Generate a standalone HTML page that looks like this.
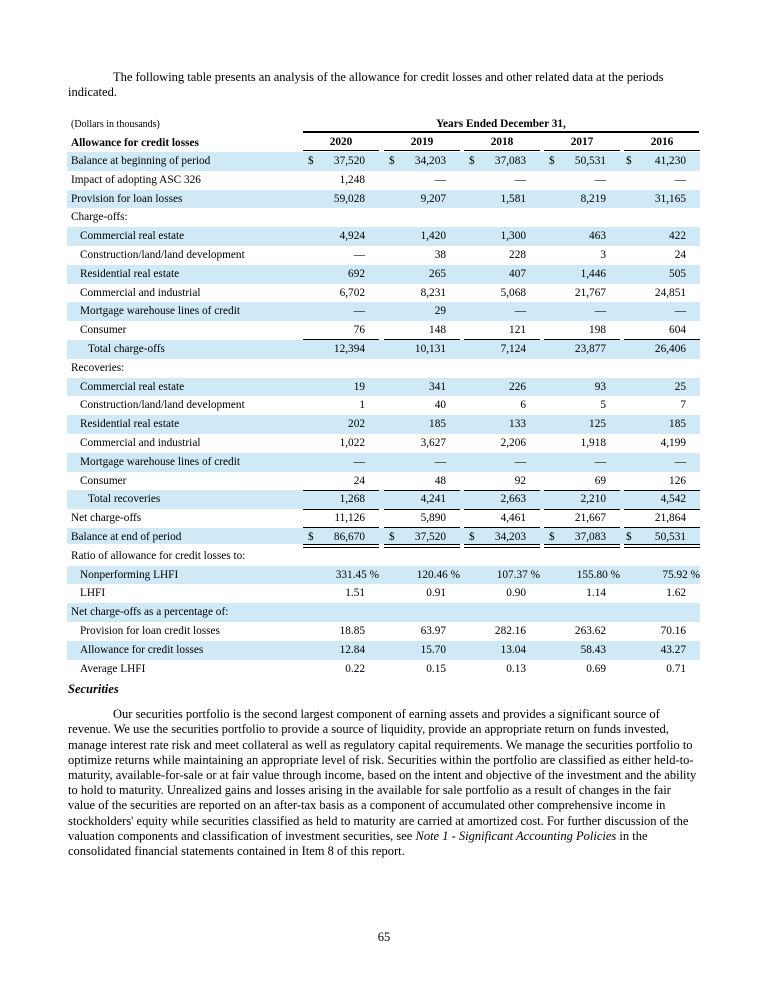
<!DOCTYPE html>
<html><head><meta charset="utf-8">
<style>
html,body{margin:0;padding:0;background:#fff;}
body{width:768px;height:993px;position:relative;overflow:hidden;font-family:"Liberation Serif","Times New Roman",serif;color:#000;}
.t{position:absolute;white-space:nowrap;font-size:12.5px;line-height:15.2px;}
.r{position:absolute;left:67px;width:633px;height:18.8px;line-height:18.8px;font-size:11.3px;white-space:nowrap;}
.b{background:#cfe9f6;}
.r span{position:absolute;top:0;}
.l{left:4px;}
.l1{left:13px;}
.l2{left:21px;}
.v{width:62px;text-align:right;}
.p{width:76px;text-align:right;}
.c0{left:236px}.c1{left:317px}.c2{left:397px}.c3{left:477px}.c4{left:557px}
.d0{left:241px}.d1{left:322px}.d2{left:402px}.d3{left:482px}.d4{left:559px}
.ln{position:absolute;height:1px;background:#000;}
.h{position:absolute;white-space:nowrap;font-size:11.3px;font-weight:bold;line-height:14px;}
</style></head><body>

<div class="t" style="left:113px;top:70px;">The following table presents an analysis of the allowance for credit losses and other related data at the periods</div>
<div class="t" style="left:68px;top:85px;">indicated.</div>

<div style="position:absolute;left:71px;top:118px;font-size:10px;line-height:14px;white-space:nowrap;">(Dollars in thousands)</div>
<div class="h" style="left:303px;width:396px;text-align:center;top:117px;">Years Ended December 31,</div>
<div class="ln" style="left:303px;width:396px;top:131px;height:1.5px;"></div>

<div class="h" style="left:71px;top:136px;">Allowance for credit losses</div>
<div class="h" style="left:303px;width:76px;text-align:center;top:135px;">2020</div>
<div class="h" style="left:384px;width:76px;text-align:center;top:135px;">2019</div>
<div class="h" style="left:464px;width:76px;text-align:center;top:135px;">2018</div>
<div class="h" style="left:544px;width:76px;text-align:center;top:135px;">2017</div>
<div class="h" style="left:624px;width:76px;text-align:center;top:135px;">2016</div>
<div class="ln" style="left:303px;width:76px;top:150px;"></div>
<div class="ln" style="left:384px;width:76px;top:150px;"></div>
<div class="ln" style="left:464px;width:76px;top:150px;"></div>
<div class="ln" style="left:544px;width:76px;top:150px;"></div>
<div class="ln" style="left:624px;width:76px;top:150px;"></div>

<!-- rows -->
<div class="r b" style="top:152px"><span class="l">Balance at beginning of period</span>
<span class="d0">$</span><span class="v c0">37,520</span><span class="d1">$</span><span class="v c1">34,203</span><span class="d2">$</span><span class="v c2">37,083</span><span class="d3">$</span><span class="v c3">50,531</span><span class="d4">$</span><span class="v c4">41,230</span></div>
<div class="r" style="top:170.8px"><span class="l">Impact of adopting ASC 326</span>
<span class="v c0">1,248</span><span class="v c1">—</span><span class="v c2">—</span><span class="v c3">—</span><span class="v c4">—</span></div>
<div class="r b" style="top:189.6px"><span class="l">Provision for loan losses</span>
<span class="v c0">59,028</span><span class="v c1">9,207</span><span class="v c2">1,581</span><span class="v c3">8,219</span><span class="v c4">31,165</span></div>
<div class="r" style="top:208.4px"><span class="l">Charge-offs:</span></div>
<div class="r b" style="top:227.2px"><span class="l1">Commercial real estate</span>
<span class="v c0">4,924</span><span class="v c1">1,420</span><span class="v c2">1,300</span><span class="v c3">463</span><span class="v c4">422</span></div>
<div class="r" style="top:246px"><span class="l1">Construction/land/land development</span>
<span class="v c0">—</span><span class="v c1">38</span><span class="v c2">228</span><span class="v c3">3</span><span class="v c4">24</span></div>
<div class="r b" style="top:264.8px"><span class="l1">Residential real estate</span>
<span class="v c0">692</span><span class="v c1">265</span><span class="v c2">407</span><span class="v c3">1,446</span><span class="v c4">505</span></div>
<div class="r" style="top:283.6px"><span class="l1">Commercial and industrial</span>
<span class="v c0">6,702</span><span class="v c1">8,231</span><span class="v c2">5,068</span><span class="v c3">21,767</span><span class="v c4">24,851</span></div>
<div class="r b" style="top:302.4px"><span class="l1">Mortgage warehouse lines of credit</span>
<span class="v c0">—</span><span class="v c1">29</span><span class="v c2">—</span><span class="v c3">—</span><span class="v c4">—</span></div>
<div class="r" style="top:321.2px"><span class="l1">Consumer</span>
<span class="v c0">76</span><span class="v c1">148</span><span class="v c2">121</span><span class="v c3">198</span><span class="v c4">604</span></div>
<div class="r b" style="top:340px"><span class="l2">Total charge-offs</span>
<span class="v c0">12,394</span><span class="v c1">10,131</span><span class="v c2">7,124</span><span class="v c3">23,877</span><span class="v c4">26,406</span></div>
<div class="r" style="top:358.8px"><span class="l">Recoveries:</span></div>
<div class="r b" style="top:377.6px"><span class="l1">Commercial real estate</span>
<span class="v c0">19</span><span class="v c1">341</span><span class="v c2">226</span><span class="v c3">93</span><span class="v c4">25</span></div>
<div class="r" style="top:396.4px"><span class="l1">Construction/land/land development</span>
<span class="v c0">1</span><span class="v c1">40</span><span class="v c2">6</span><span class="v c3">5</span><span class="v c4">7</span></div>
<div class="r b" style="top:415.2px"><span class="l1">Residential real estate</span>
<span class="v c0">202</span><span class="v c1">185</span><span class="v c2">133</span><span class="v c3">125</span><span class="v c4">185</span></div>
<div class="r" style="top:434px"><span class="l1">Commercial and industrial</span>
<span class="v c0">1,022</span><span class="v c1">3,627</span><span class="v c2">2,206</span><span class="v c3">1,918</span><span class="v c4">4,199</span></div>
<div class="r b" style="top:452.8px"><span class="l1">Mortgage warehouse lines of credit</span>
<span class="v c0">—</span><span class="v c1">—</span><span class="v c2">—</span><span class="v c3">—</span><span class="v c4">—</span></div>
<div class="r" style="top:471.6px"><span class="l1">Consumer</span>
<span class="v c0">24</span><span class="v c1">48</span><span class="v c2">92</span><span class="v c3">69</span><span class="v c4">126</span></div>
<div class="r b" style="top:490.4px"><span class="l2">Total recoveries</span>
<span class="v c0">1,268</span><span class="v c1">4,241</span><span class="v c2">2,663</span><span class="v c3">2,210</span><span class="v c4">4,542</span></div>
<div class="r" style="top:509.2px"><span class="l">Net charge-offs</span>
<span class="v c0">11,126</span><span class="v c1">5,890</span><span class="v c2">4,461</span><span class="v c3">21,667</span><span class="v c4">21,864</span></div>
<div class="r b" style="top:528px;height:16.3px;line-height:19px;"><span class="l">Balance at end of period</span>
<span class="d0">$</span><span class="v c0">86,670</span><span class="d1">$</span><span class="v c1">37,520</span><span class="d2">$</span><span class="v c2">34,203</span><span class="d3">$</span><span class="v c3">37,083</span><span class="d4">$</span><span class="v c4">50,531</span></div>
<div class="r" style="top:546.8px"><span class="l">Ratio of allowance for credit losses to:</span></div>
<div class="r b" style="top:565.6px"><span class="l1">Nonperforming LHFI</span>
<span class="p c0">331.45 %</span><span class="p c1">120.46 %</span><span class="p c2">107.37 %</span><span class="p c3">155.80 %</span><span class="p c4">75.92 %</span></div>
<div class="r" style="top:584.4px"><span class="l1">LHFI</span>
<span class="v c0">1.51</span><span class="v c1">0.91</span><span class="v c2">0.90</span><span class="v c3">1.14</span><span class="v c4">1.62</span></div>
<div class="r b" style="top:603.2px"><span class="l">Net charge-offs as a percentage of:</span></div>
<div class="r" style="top:622px"><span class="l1">Provision for loan credit losses</span>
<span class="v c0">18.85</span><span class="v c1">63.97</span><span class="v c2">282.16</span><span class="v c3">263.62</span><span class="v c4">70.16</span></div>
<div class="r b" style="top:640.8px"><span class="l1">Allowance for credit losses</span>
<span class="v c0">12.84</span><span class="v c1">15.70</span><span class="v c2">13.04</span><span class="v c3">58.43</span><span class="v c4">43.27</span></div>
<div class="r" style="top:659.6px"><span class="l1">Average LHFI</span>
<span class="v c0">0.22</span><span class="v c1">0.15</span><span class="v c2">0.13</span><span class="v c3">0.69</span><span class="v c4">0.71</span></div>

<!-- underline rules -->
<div class="ln" style="left:303px;width:76px;top:339px;"></div>
<div class="ln" style="left:384px;width:76px;top:339px;"></div>
<div class="ln" style="left:464px;width:76px;top:339px;"></div>
<div class="ln" style="left:544px;width:76px;top:339px;"></div>
<div class="ln" style="left:624px;width:76px;top:339px;"></div>

<div class="ln" style="left:303px;width:76px;top:490px;"></div>
<div class="ln" style="left:384px;width:76px;top:490px;"></div>
<div class="ln" style="left:464px;width:76px;top:490px;"></div>
<div class="ln" style="left:544px;width:76px;top:490px;"></div>
<div class="ln" style="left:624px;width:76px;top:490px;"></div>

<div class="ln" style="left:303px;width:76px;top:509px;"></div>
<div class="ln" style="left:384px;width:76px;top:509px;"></div>
<div class="ln" style="left:464px;width:76px;top:509px;"></div>
<div class="ln" style="left:544px;width:76px;top:509px;"></div>
<div class="ln" style="left:624px;width:76px;top:509px;"></div>

<div class="ln" style="left:303px;width:76px;top:527px;"></div>
<div class="ln" style="left:384px;width:76px;top:527px;"></div>
<div class="ln" style="left:464px;width:76px;top:527px;"></div>
<div class="ln" style="left:544px;width:76px;top:527px;"></div>
<div class="ln" style="left:624px;width:76px;top:527px;"></div>

<div class="ln" style="left:303px;width:76px;top:544px;"></div>
<div class="ln" style="left:384px;width:76px;top:544px;"></div>
<div class="ln" style="left:464px;width:76px;top:544px;"></div>
<div class="ln" style="left:544px;width:76px;top:544px;"></div>
<div class="ln" style="left:624px;width:76px;top:544px;"></div>
<div class="ln" style="left:303px;width:76px;top:547px;"></div>
<div class="ln" style="left:384px;width:76px;top:547px;"></div>
<div class="ln" style="left:464px;width:76px;top:547px;"></div>
<div class="ln" style="left:544px;width:76px;top:547px;"></div>
<div class="ln" style="left:624px;width:76px;top:547px;"></div>

<div class="t" style="left:68px;top:682px;font-weight:bold;font-style:italic;">Securities</div>

<div class="t" style="left:113px;top:707.2px;">Our securities portfolio is the second largest component of earning assets and provides a significant source of</div>
<div class="t" style="left:68px;top:722.4px;">revenue. We use the securities portfolio to provide a source of liquidity, provide an appropriate return on funds invested,</div>
<div class="t" style="left:68px;top:737.6px;">manage interest rate risk and meet collateral as well as regulatory capital requirements. We manage the securities portfolio to</div>
<div class="t" style="left:68px;top:752.8px;">optimize returns while maintaining an appropriate level of risk. Securities within the portfolio are classified as either held-to-</div>
<div class="t" style="left:68px;top:768px;">maturity, available-for-sale or at fair value through income, based on the intent and objective of the investment and the ability</div>
<div class="t" style="left:68px;top:783.2px;">to hold to maturity. Unrealized gains and losses arising in the available for sale portfolio as a result of changes in the fair</div>
<div class="t" style="left:68px;top:798.4px;">value of the securities are reported on an after-tax basis as a component of accumulated other comprehensive income in</div>
<div class="t" style="left:68px;top:813.6px;">stockholders' equity while securities classified as held to maturity are carried at amortized cost. For further discussion of the</div>
<div class="t" style="left:68px;top:828.8px;">valuation components and classification of investment securities, see <i>Note 1 - Significant Accounting Policies</i> in the</div>
<div class="t" style="left:68px;top:844px;">consolidated financial statements contained in Item 8 of this report.</div>

<div class="t" style="left:0;width:768px;text-align:center;top:930px;">65</div>

</body></html>
